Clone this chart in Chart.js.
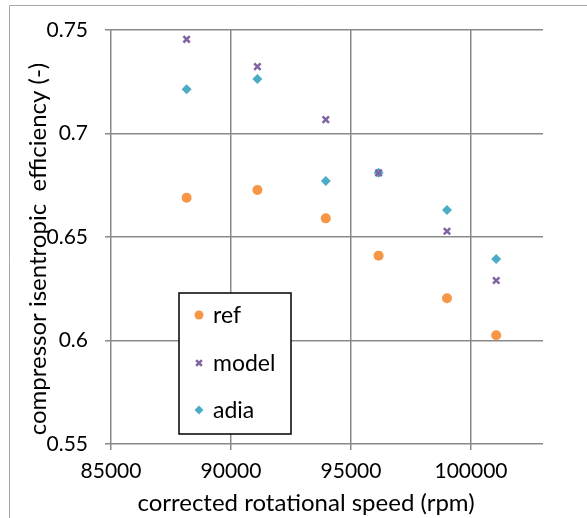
<!DOCTYPE html>
<html>
<head>
<meta charset="utf-8">
<script src="https://cdn.jsdelivr.net/npm/chart.js@4.4.1/dist/chart.umd.min.js"></script>
<style>
    html, body { margin: 0; padding: 0; background: #fff; }
    #grafica { display: block; }
</style>
</head>
<body>
<canvas id="grafica" width="587" height="518"></canvas>
<script>
// Datos
const velocidad = [88150, 91100, 93950, 96150, 99000, 101050];
const ref = [0.669, 0.6727, 0.659, 0.641, 0.6204, 0.6025];
const model = [0.7455, 0.7323, 0.7067, 0.681, 0.6528, 0.629];
const adia = [0.7214, 0.7263, 0.677, 0.681, 0.663, 0.6394];

const etiquetas = ['ref', 'model', 'adia'];
const ticksX = [85000, 90000, 95000, 100000];
const ticksY = [0.55, 0.6, 0.65, 0.7, 0.75];

const fuente = 'Lato, "Open Sans", sans-serif';

function puntos(valores) {
    return velocidad.map((v, i) => ({ x: v, y: valores[i] }));
}

// Borde exterior, titulos de ejes y leyenda dentro del area
const extras = {
    id: 'extras',
    beforeDraw(chart) {
        const ctx = chart.ctx;
        ctx.save();
        ctx.strokeStyle = '#a6a6a6';
        ctx.lineWidth = 1;
        ctx.beginPath();
        ctx.moveTo(9.5, 518);
        ctx.lineTo(9.5, 5.5);
        ctx.lineTo(587, 5.5);
        ctx.stroke();
        ctx.restore();
    },
    afterDraw(chart) {
        const ctx = chart.ctx;
        ctx.save();
        ctx.fillStyle = '#000';
        ctx.font = '24px ' + fuente;
        ctx.textAlign = 'center';
        ctx.textBaseline = 'middle';
        ctx.fillText('corrected rotational speed (rpm)', 306, 503);

        ctx.translate(38, 249);
        ctx.rotate(-Math.PI / 2);
        ctx.fillText('compressor isentropic  efficiency (-)', 0, 0);
        ctx.restore();

        // Leyenda
        ctx.save();
        ctx.fillStyle = '#fff';
        ctx.fillRect(179, 293, 112, 141);
        ctx.strokeStyle = '#000';
        ctx.lineWidth = 1.5;
        ctx.strokeRect(179, 293, 112, 141);
        const filas = [315, 363, 410];
        chart.data.datasets.forEach((ds, i) => {
            ctx.fillStyle = ds.backgroundColor;
            ctx.strokeStyle = ds.borderColor;
            ctx.lineWidth = ds.pointBorderWidth;
            Chart.helpers.drawPoint(ctx, {
                pointStyle: ds.pointStyle,
                radius: ds.pointRadius * 0.9,
                borderWidth: ds.pointBorderWidth
            }, 199, filas[i]);
            ctx.fillStyle = '#000';
            ctx.font = '23px ' + fuente;
            ctx.textAlign = 'left';
            ctx.textBaseline = 'middle';
            ctx.fillText(ds.label, 213, filas[i] + 1);
        });
        ctx.restore();
    }
};

const ctx = document.getElementById('grafica').getContext('2d');
let myChart = new Chart(ctx, {
    type: 'scatter',
    data: {
        datasets: [{
            label: etiquetas[0],
            data: puntos(ref),
            pointStyle: 'circle',
            pointRadius: 5,
            pointBorderWidth: 0,
            backgroundColor: '#f79646',
            borderColor: '#f79646'
        }, {
            label: etiquetas[1],
            data: puntos(model),
            pointStyle: 'crossRot',
            pointRadius: 4.5,
            pointBorderWidth: 2.5,
            backgroundColor: '#8064a2',
            borderColor: '#8064a2'
        }, {
            label: etiquetas[2],
            data: puntos(adia),
            pointStyle: 'rectRot',
            pointRadius: 5,
            pointBorderWidth: 0,
            backgroundColor: '#4bacc6',
            borderColor: '#4bacc6'
        }]
    },
    options: {
        responsive: false,
        animation: false,
        layout: {
            padding: { top: 30, right: 44, bottom: 0, left: 0 }
        },
        plugins: {
            legend: { display: false },
            tooltip: { enabled: false }
        },
        scales: {
            x: {
                type: 'linear',
                min: 85000,
                max: 103000,
                afterBuildTicks: scale => {
                    scale.ticks = ticksX.map(v => ({ value: v }));
                },
                afterFit: scale => { scale.height = 74; },
                grid: {
                    color: '#898989',
                    lineWidth: 1.5,
                    tickLength: 6,
                    drawTicks: true
                },
                border: { display: false },
                ticks: {
                    color: '#000',
                    padding: 9,
                    maxRotation: 0,
                    font: { family: fuente, size: 21 },
                    callback: v => String(v)
                }
            },
            y: {
                type: 'linear',
                min: 0.55,
                max: 0.75,
                afterBuildTicks: scale => {
                    scale.ticks = ticksY.map(v => ({ value: v }));
                },
                afterFit: scale => { scale.width = 111; },
                grid: {
                    color: '#898989',
                    lineWidth: 1.5,
                    tickLength: 6
                },
                border: { display: false },
                ticks: {
                    color: '#000',
                    padding: 17,
                    font: { family: fuente, size: 21 },
                    callback: v => String(Math.round(v * 100) / 100)
                }
            }
        }
    },
    plugins: [extras]
});
</script>
</body>
</html>
